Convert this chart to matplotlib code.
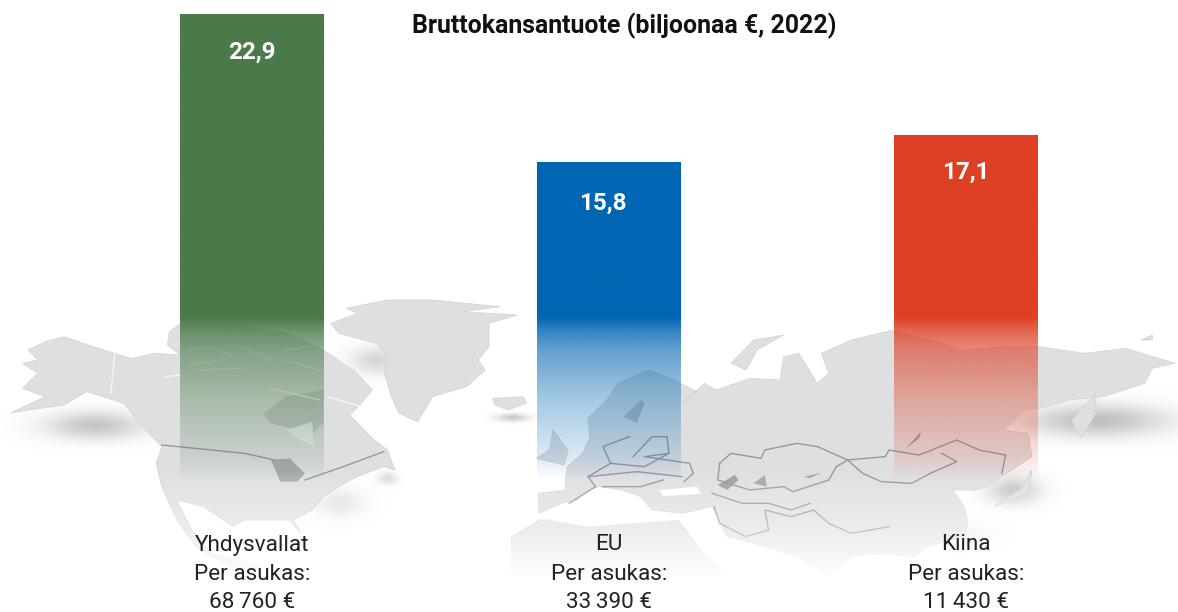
import numpy as np
import matplotlib
matplotlib.use("Agg")
import matplotlib.pyplot as plt
from matplotlib.patches import Polygon
from matplotlib.transforms import blended_transform_factory

plt.rcParams['font.family'] = ['Roboto', 'DejaVu Sans']

# ---- data ----
TITLE = "Bruttokansantuote (biljoonaa €, 2022)"
regions = ["Yhdysvallat", "EU", "Kiina"]
gdp = [22.9, 15.8, 17.1]
gdp_labels = ["22,9", "15,8", "17,1"]
per_capita_labels = ["68\u2009760 €", "33\u2009390 €", "11\u2009430 €"]
per_capita_heading = "Per asukas:"
bar_colors = ["#4A7A4A", "#0066B3", "#DE4025"]
label_shift_px = [(0, -38), (-6, -41), (0, -37)]

W, H = 1178, 612
fig = plt.figure(figsize=(W / 100, H / 100), dpi=100, facecolor="white")

# ---- decorative background map (pixel space) ----
bg = fig.add_axes([0, 0, 1, 1])
bg.set_xlim(0, W); bg.set_ylim(H, 0); bg.axis("off")

SX = 2.658
def z1(pts):
    return [(x / SX, y / 3 + 290) for x, y in pts]
def z2(pts):
    return [(x / SX + 588, y / 3 + 290) for x, y in pts]

north_america = z1([(75,180),(120,155),(170,140),(235,165),(305,190),(350,205),(410,190),(480,195),(445,165),(450,125),(480,100),
    (620,100),(760,130),(860,180),(905,215),(940,240),(990,300),(960,340),(930,375),(985,440),(1030,480),(1050,540),
    (1020,530),(950,560),(900,590),(860,620),(830,660),(780,690),(800,730),(770,690),(650,690),(620,710),(540,650),
    (470,630),(510,720),(560,790),(700,830),(640,850),(520,770),(470,690),(430,590),(415,520),(430,470),(370,400),
    (330,340),(230,305),(170,345),(30,368),(120,320),(60,295),(100,250),(60,220),(100,210)])
greenland = z1([(880,100),(950,70),(920,55),(1030,30),(1150,30),(1330,50),(1230,65),(1375,75),(1300,100),
    (1300,170),(1270,210),(1290,240),(1240,290),(1150,320),(1110,395),(1060,370),(1040,320),(1020,240),
    (1040,210),(1000,160),(900,130)])
iceland = z1([(1310,325),(1390,320),(1400,340),(1350,360),(1315,345)])
uk = z1([(1425,505),(1460,480),(1470,420),(1510,480),(1500,525)])
eurasia = z2([(-133,610),(-60,600),(-60,560),(-55,530),(-15,490),(5,445),(0,385),(50,330),(80,280),
    (160,240),(220,265),(290,305),(250,340),(310,280),(340,300),(430,265),(510,270),(520,200),(560,190),
    (610,280),(640,250),(620,190),(700,150),(810,120),(1000,180),(1100,170),(1200,170),(1320,190),(1430,175),
    (1560,220),(1500,235),(1480,280),(1370,320),(1280,330),(1200,355),(1160,360),(1105,420),(1170,430),
    (1180,500),(1100,560),(1060,590),(1030,600),(970,600),(1000,650),(1010,700),(1000,740),(900,770),(870,800),
    (780,790),(700,800),(640,860),(560,800),(440,760),(370,740),(330,650),(250,670),(170,660),(140,620),
    (90,600),(30,590),(0,600),(-30,630),(-70,640),(-130,670)])
africa = z2([(-203,740),(-130,690),(0,690),(240,690),(300,780),(380,870),(-203,870)])
kamchatka = z2([(1285,390),(1350,310),(1350,370),(1310,445)])
novaya = z2([(380,220),(440,150),(520,135),(450,180),(420,240)])
japan = z2([(1180,540),(1170,610),(1080,650),(1100,630),(1150,600)])
sakhalin = z2([(1470,150),(1500,135),(1500,150)])
lands = [north_america, greenland, iceland, uk, eurasia, africa, kamchatka, novaya, japan, sakhalin]

yy, xx = np.mgrid[0:H, 0:W]
shadow = np.zeros((H, W))
for cx, cy, sx, sy, a in [(95,425,48,14,.5),(376,360,26,14,.35),(512,417,16,4,.45),(339,503,24,14,.25),
                          (387,478,10,6,.3),(1096,420,70,16,.55),(1013,490,26,14,.5),(960,535,30,10,.15)]:
    shadow += a * np.exp(-((xx - cx) / sx) ** 2 - ((yy - cy) / sy) ** 2)
rgba = np.zeros((H, W, 4)); rgba[..., :3] = 0.55; rgba[..., 3] = np.clip(shadow, 0, 1)
bg.imshow(rgba, extent=(0, W, H, 0), aspect="auto", zorder=1, interpolation="bilinear")

for pts in lands:
    bg.add_patch(Polygon(pts, closed=True, fc="#DEDFE1", ec="#D2D3D5", lw=0.5, zorder=2))

# inland seas and bays
for pts, c in [(z1([(700,370),(760,320),(860,300),(860,400),(830,430),(720,400)]), "#C4C6C8"),
               (z1([(760,420),(830,395),(835,470),(800,450)]), "#EDEEEE"),
               (z1([(720,510),(770,505),(810,550),(790,575),(745,575)]), "#A9ABAD"),
               (z2([(95,380),(140,330),(150,340),(130,400)]), "#B9BBBD"),
               (z2([(190,600),(290,590),(300,612),(200,618)]), "#FFFFFF"),
               (z2([(345,585),(390,555),(400,570),(370,600)]), "#9B9DA0"),
               (z2([(440,580),(470,555),(475,590)]), "#A3A5A8"),
               (z2([(575,560),(620,548),(590,565)]), "#A3A5A8"),
               (z2([(845,475),(885,425),(880,445)]), "#9B9DA0"),
               (z2([(-60,660),(0,630),(170,670),(240,690),(0,710),(-100,690)]), "#FFFFFF")]:
    bg.add_patch(Polygon(pts, closed=True, fc=c, ec="none", zorder=3))

# arctic channels, white breaks in the land
for b in [z1([(500,180),(560,170),(620,200)]), z1([(500,225),(590,210)]), z1([(640,170),(720,210)]),
          z1([(760,180),(840,165)]), z1([(530,240),(640,235)]), z1([(750,210),(850,240)]),
          z1([(305,190),(295,310)]), z1([(440,260),(480,255)]), z1([(720,295),(850,330)]),
          z1([(870,320),(960,350)])]:
    bx, by = zip(*b)
    bg.plot(bx, by, color="#F4F4F5", lw=1.0, zorder=3.5)

borders = [z1([(430,465),(650,490),(730,510)]), z1([(810,570),(900,535),(1020,485)]),
           z2([(210,440),(215,490),(150,500),(270,520),(280,550),(255,575)]),
           z2([(350,520),(380,490),(460,505),(470,480),(555,460),(610,470),(690,510),(790,500),(800,480),
               (880,495),(980,450),(1040,480),(1110,495),(1100,550)]),
           z2([(690,510),(730,550),(780,575),(860,580),(910,550),(980,515),(940,490)]),
           z2([(350,520),(345,570),(430,600),(520,590),(545,605),(640,570),(660,530),(690,510)]),
           z2([(330,610),(410,640),(480,640),(540,660),(590,640)]),
           z2([(335,650),(350,700),(420,740),(480,720),(470,660),(540,680),(600,660),(640,700),(700,730),(800,710)]),
           z2([(60,520),(150,530),(215,490)]), z2([(0,560),(130,545),(250,560)]),
           z2([(40,590),(140,590),(200,570)]), z2([(60,520),(40,470),(110,440)]),
           z2([(120,500),(170,440),(210,440)]), z2([(-50,640),(20,590),(0,560),(60,520)])]
for b in borders:
    bx, by = zip(*b)
    bg.plot(bx, by, color="#96989B", lw=1.0, zorder=4, solid_joinstyle="round")

# map fades out towards the bottom
fade = np.ones((H, 1, 4))
fade[..., 3] = np.interp(np.arange(H), [470, 530, 578], [0, .45, 1])[:, None]
bg.imshow(fade, extent=(0, W, H, 0), aspect="auto", zorder=5)
bg.set_xlim(0, W); bg.set_ylim(H, 0)

# ---- chart axes: value scale with baseline at y = 491 px ----
PX_PER_UNIT = 148 / 7.1
BASE_PX = 491.4
SPACING = 357
ax = fig.add_axes([0, 0, 1, 1], facecolor="none")
xlim = (-252 / SPACING, (W - 252) / SPACING)
ylim = (-(H - BASE_PX) / PX_PER_UNIT, BASE_PX / PX_PER_UNIT)
ax.set_xlim(*xlim); ax.set_ylim(*ylim)
ax.axis("off")
xpos = np.arange(len(regions))
bar_w = 143.5 / SPACING

def px2val(p):
    return (BASE_PX - p) / PX_PER_UNIT

bars = ax.bar(xpos, gdp, width=bar_w, color="none", edgecolor="none")
for x, v, c, patch in zip(xpos, gdp, bar_colors, bars):
    n = 700
    vals = np.linspace(v, 0, n)
    alpha = np.interp(vals, [px2val(p) for p in (480, 460, 400, 350, 332, 318)],
                      [0, .13, .36, .62, .80, 1.0])
    img = np.zeros((n, 1, 4))
    img[..., :3] = matplotlib.colors.to_rgb(c)
    img[..., 3] = alpha[:, None]
    im = ax.imshow(img, extent=(x - bar_w / 2, x + bar_w / 2, 0, v), aspect="auto", zorder=2)
    im.set_clip_path(patch)
ax.set_xlim(*xlim); ax.set_ylim(*ylim)

for x, v, lab, (dx, dy) in zip(xpos, gdp, gdp_labels, label_shift_px):
    ax.annotate(lab, (x, v), xytext=(dx * 0.72, dy * 0.72), textcoords="offset points", ha="center", va="center",
                color="white", fontweight="bold", fontsize=17.5, zorder=5)

tr = blended_transform_factory(ax.transData, fig.transFigure)
for x, name, pc in zip(xpos, regions, per_capita_labels):
    for txt, p in ((name, 545), (per_capita_heading, 575), (pc, 603)):
        ax.text(x, 1 - p / H, txt, transform=tr, ha="center", va="center",
                color="#222222", fontsize=16.2, zorder=5)

fig.text(624 / W, 1 - 26 / H, TITLE, ha="center", va="center", fontsize=17.9, fontweight="bold", color="#111111")

fig.savefig("out.png", dpi=100, facecolor="white")
